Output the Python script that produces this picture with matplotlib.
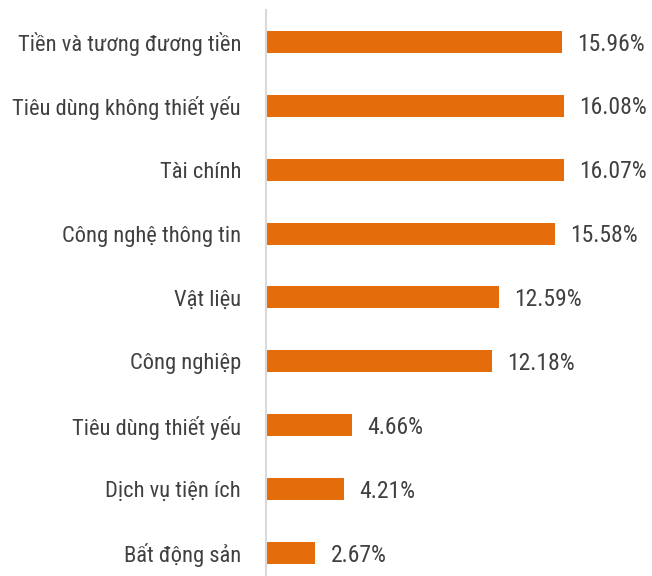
import matplotlib
matplotlib.use("Agg")
import matplotlib.pyplot as plt

# danh mục và tỷ trọng (%)
nganh = ["Tiền và tương đương tiền", "Tiêu dùng không thiết yếu", "Tài chính",
         "Công nghệ thông tin", "Vật liệu", "Công nghiệp",
         "Tiêu dùng thiết yếu", "Dịch vụ tiện ích", "Bất động sản"]
ty_trong = [15.96, 16.08, 16.07, 15.58, 12.59, 12.18, 4.66, 4.21, 2.67]

plt.rcParams["font.family"] = ["Roboto Condensed", "DejaVu Sans"]

fig = plt.figure(figsize=(6.52, 5.76), dpi=100)
ax = fig.add_axes([266 / 652, 0, 386 / 652, 1 - 10 / 576])

y = list(range(len(nganh)))
ax.barh(y, ty_trong, height=0.345, color="#E46C0A")
for yi, v in zip(y, ty_trong):
    ax.annotate(f"{v:.2f}%", (v, yi), xytext=(11, -1.5), textcoords="offset points",
                va="center", ha="left", fontsize=17, color="#404040")

ax.set_ylim(8.36, -0.5)
ax.set_xlim(0, 386 / 18.53)
ax.set_yticks(y)
ax.set_yticklabels(nganh, fontsize=16.2, color="#404040")
ax.tick_params(axis="y", length=0, pad=18)
ax.set_xticks([])
for s in ["top", "right", "bottom"]:
    ax.spines[s].set_visible(False)
ax.spines["left"].set_color("#d9d9d9")
ax.spines["left"].set_linewidth(1.5)

fig.savefig("out.png", dpi=100)
